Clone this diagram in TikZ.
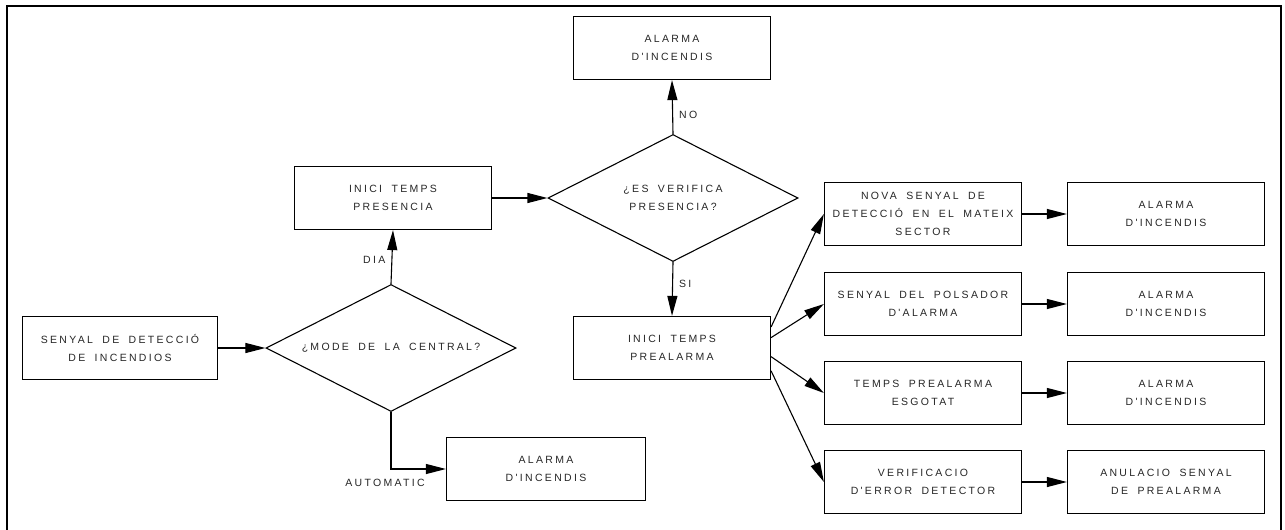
\documentclass[tikz,border=0pt]{standalone}
\usepackage{fontspec}
\newfontfamily\plotfont{Liberation Sans}[LetterSpace=22, WordSpace=1.8]
\usetikzlibrary{arrows.meta,shapes.geometric}
\tikzset{
  box/.style={draw, line width=1.2pt, minimum width=197pt, minimum height=63pt,
    align=center, inner sep=2pt},
  ask/.style={draw, line width=1.1pt, diamond, aspect=2, inner sep=0pt,
    minimum width=250pt, minimum height=127pt, align=center},
  lbl/.style={inner sep=6pt},
  every node/.style={font=\plotfont\fontsize{10.5}{18}\selectfont, text=black!85},
  flow/.style={line width=1.1pt, -{Triangle[length=20pt,width=10pt]}}
}
\begin{document}
\begin{tikzpicture}
    \def\x{1pt}
    \def\y{-1pt}
    \useasboundingbox (0,0) rectangle (1285*\x, 530*\y);
    \draw[line width=1.3pt] (7*\x, 530*\y) -- (7*\x, 6*\y) -- (1281*\x, 6*\y) -- (1281*\x, 530*\y);
    \node[box] (A0_2) at (672*\x, 48*\y) {ALARMA\\D'INCENDIS};
    \node[box] (A1_1) at (393*\x, 198*\y) {INICI TEMPS\\PRESENCIA};
    \node[ask] (A1_2) at (673*\x, 198*\y) {¿ES VERIFICA\\PRESENCIA?};
    \node[box, minimum width=195pt] (A2_0) at (120*\x, 348*\y) {SENYAL DE DETECCIÓ\\DE INCENDIOS};
    \node[ask] (A2_1) at (391*\x, 348*\y) {¿MODE DE LA CENTRAL?};
    \node[box] (A2_2) at (672*\x, 348*\y) {INICI TEMPS\\PREALARMA};
    \node[box, minimum width=199pt] (A3_1) at (546*\x, 469*\y) {ALARMA\\D'INCENDIS};
    \node[box] (B0_0) at (923*\x, 214*\y) {NOVA SENYAL DE\\DETECCIÓ EN EL MATEIX\\SECTOR};
    \node[box] (B0_1) at (1166*\x, 214*\y) {ALARMA\\D'INCENDIS};
    \node[box] (B1_0) at (923*\x, 304*\y) {SENYAL DEL POLSADOR\\D'ALARMA};
    \node[box] (B1_1) at (1166*\x, 304*\y) {ALARMA\\D'INCENDIS};
    \node[box] (B2_0) at (923*\x, 393*\y) {TEMPS PREALARMA\\ESGOTAT};
    \node[box] (B2_1) at (1166*\x, 393*\y) {ALARMA\\D'INCENDIS};
    \node[box] (B3_0) at (923*\x, 482*\y) {VERIFICACIO\\D'ERROR DETECTOR};
    \node[box] (B3_1) at (1166*\x, 482*\y) {ANULACIO SENYAL\\DE PREALARMA};
    \path (A2_0) edge [flow] (A2_1);
    \path (A2_1.north) edge [flow] node [lbl, auto, pos=0.45] {DIA} (A1_1.south);
    \draw [flow] (A2_1.south) |- node [lbl, below=4pt, pos=0.5, xshift=-6pt] {AUTOMATIC} (A3_1.west);
    \path (A1_1) edge [flow] (A1_2);
    \path (A1_2.north) edge [flow] node [lbl, auto, swap, pos=0.35] {NO} (A0_2.south);
    \path (A1_2.south) edge [flow] node [lbl, auto, pos=0.4] {SI} (A2_2.north);
    \path (A2_2.12) edge [flow] (B0_0.west);
    \path (A2_2.6) edge [flow] (B1_0.west);
    \path (A2_2.-5) edge [flow] (B2_0.west);
    \path (A2_2.-13) edge [flow] (B3_0.west);
    \path (B0_0) edge [flow] (B0_1);
    \path (B1_0) edge [flow] (B1_1);
    \path (B2_0) edge [flow] (B2_1);
    \path (B3_0) edge [flow] (B3_1);
  \end{tikzpicture}
\end{document}
